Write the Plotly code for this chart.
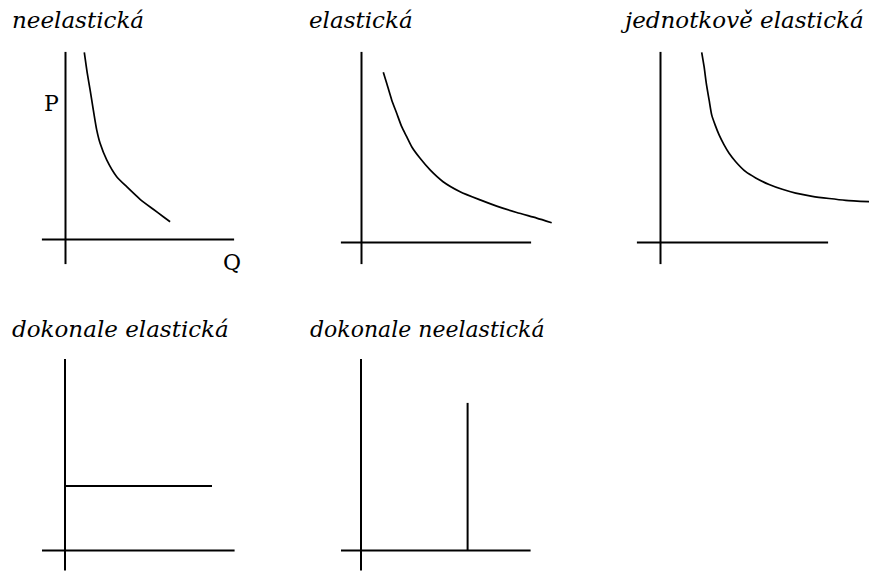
import plotly.graph_objects as go

W, H = 869, 572
S = 20  # pixels per data unit

# nadpisy grafů
titles = ["neelastická", "elastická", "jednotkově elastická",
          "dokonale elastická", "dokonale neelastická"]

# neelastická poptávka
inel_q = [0.94, 1.09, 1.23, 1.39, 1.56, 1.73, 2.06, 2.56, 3.06, 3.73, 4.39, 4.89, 5.23]
inel_p = [9.36, 8.31, 7.48, 6.48, 5.48, 4.81, 3.98, 3.14, 2.64, 2.01, 1.51, 1.14, 0.89]

# elastická poptávka
el_q = [1.09, 1.26, 1.51, 1.76, 2.01, 2.26, 2.51, 2.93, 3.43, 4.08, 4.93, 5.93, 6.76, 7.76, 8.76, 9.51]
el_p = [8.51, 7.96, 7.13, 6.46, 5.79, 5.29, 4.79, 4.21, 3.63, 3.04, 2.54, 2.13, 1.82, 1.50, 1.22, 0.99]

# jednotkově elastická poptávka
unit_q = [2.06, 2.18, 2.29, 2.43, 2.56, 2.73, 2.93, 3.18, 3.43, 3.76, 4.26, 4.76, 5.43,
          6.09, 6.76, 7.59, 8.43, 9.26, 10.43]
unit_p = [9.51, 8.79, 7.96, 7.13, 6.38, 5.88, 5.38, 4.88, 4.46, 4.04, 3.54, 3.23, 2.90,
          2.66, 2.47, 2.31, 2.20, 2.11, 2.04]

# dokonale elastická (vodorovná) a dokonale neelastická (svislá)
perf_el_q = [0.0, 7.35]
perf_el_p = [3.23, 3.23]
perf_inel_q = [5.33, 5.33]
perf_inel_p = [0.0, 7.38]

# délky os P a Q v každém grafu
q_axis = [[-1.18, 8.43], [-1.03, 8.48], [-1.18, 8.38], [-1.15, 8.48], [-1.0, 8.48]]
p_axis = [[-1.23, 9.38], [-1.08, 9.53], [-1.08, 9.53], [-1.0, 9.58], [-1.0, 9.58]]

curves = [(inel_q, inel_p), (el_q, el_p), (unit_q, unit_p),
          (perf_el_q, perf_el_p), (perf_inel_q, perf_inel_p)]

# umístění grafů na stránce (počátek a rámeček v pixelech)
origins = [(65.5, 239.5), (361.5, 242.5), (660.5, 242.5), (65, 550.5), (361, 550.5)]
boxes = [(30, 300, 40, 282), (320, 600, 40, 282), (620, 869, 40, 282),
         (30, 300, 345, 572), (320, 600, 345, 572)]
title_pos = [(10, 20), (307, 20), (618, 20), (10, 329), (308, 329)]
title_size = [23, 23, 23, 23, 22]

fig = go.Figure()
layout = {}

for i in range(5):
    n = "" if i == 0 else str(i + 1)
    ox, oy = origins[i]
    bx0, bx1, by0, by1 = boxes[i]
    layout["xaxis" + n] = dict(domain=[bx0 / W, bx1 / W],
                               range=[(bx0 - ox) / S, (bx1 - ox) / S],
                               visible=False, fixedrange=True,
                               anchor="y" + n)
    layout["yaxis" + n] = dict(domain=[1 - by1 / H, 1 - by0 / H],
                               range=[(oy - by1) / S, (oy - by0) / S],
                               visible=False, fixedrange=True,
                               anchor="x" + n)

    # osy
    fig.add_trace(go.Scatter(x=q_axis[i], y=[0, 0], mode="lines",
                             line=dict(color="black", width=2),
                             xaxis="x" + n, yaxis="y" + n, hoverinfo="skip"))
    fig.add_trace(go.Scatter(x=[0, 0], y=p_axis[i], mode="lines",
                             line=dict(color="black", width=2),
                             xaxis="x" + n, yaxis="y" + n, hoverinfo="skip"))
    # křivka poptávky
    q, p = curves[i]
    fig.add_trace(go.Scatter(x=q, y=p, mode="lines",
                             line=dict(color="black", width=1.7 if i < 3 else 2,
                                       shape="spline", smoothing=0.6),
                             xaxis="x" + n, yaxis="y" + n))

annotations = []
for t, (tx, ty), fs in zip(titles, title_pos, title_size):
    annotations.append(dict(text=t, x=tx / W, y=1 - ty / H, xref="paper", yref="paper",
                            xanchor="left", yanchor="middle", showarrow=False,
                            font=dict(family="DejaVu Serif", size=fs, style="italic",
                                      color="black")))

annotations.append(dict(text="P", x=42 / W, y=1 - 89 / H, xref="paper", yref="paper",
                        showarrow=False,
                        font=dict(family="DejaVu Serif", size=22, color="black")))
annotations.append(dict(text="Q", x=221 / W, y=1 - 262 / H, xref="paper", yref="paper",
                        showarrow=False,
                        font=dict(family="DejaVu Serif", size=22, color="black")))

fig.update_layout(
    width=W, height=H,
    margin=dict(l=0, r=0, t=0, b=0),
    paper_bgcolor="white", plot_bgcolor="white",
    showlegend=False,
    annotations=annotations,
    **layout
)

fig.write_html("out.html", config={"displayModeBar": False},
               post_script="document.body.style.margin='0';")
